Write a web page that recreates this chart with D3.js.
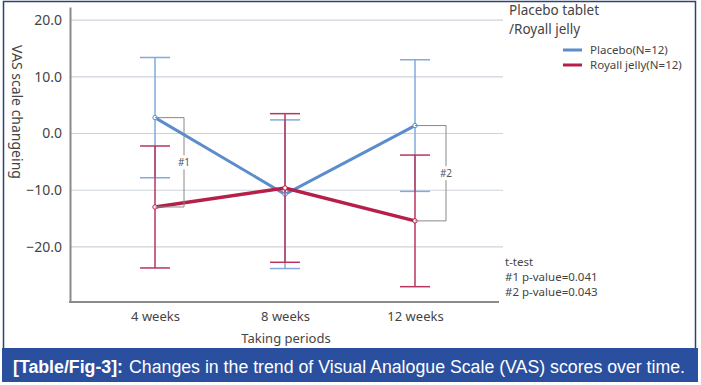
<!DOCTYPE html>
<html>
<head>
<meta charset="utf-8">
<script src="https://cdn.jsdelivr.net/npm/d3@7"></script>
<style>
  body { margin: 0; background: #fff; }
  svg { display: block; }
</style>
</head>
<body>
<div id="chart"></div>
<script>
// data
const periods = ["4 weeks", "8 weeks", "12 weeks"];
const placeboMean = [2.8, -10.7, 1.4];
const placeboSd = [10.6, 13.1, 11.6];
const jellyMean = [-12.95, -9.6, -15.4];
const jellySd = [10.75, 13.1, 11.6];
const yTicks = [20, 10, 0, -10, -20];
const pValues = ["#1 p-value=0.041", "#2 p-value=0.043"];

const width = 701, height = 385;
const svg = d3.select("#chart").append("svg")
  .attr("width", width)
  .attr("height", height);

// outer frame + caption band
svg.append("rect")
  .attr("x", 3.5).attr("y", 1.5)
  .attr("width", 692).attr("height", 350)
  .attr("fill", "#fff")
  .attr("stroke", "#2b4272")
  .attr("stroke-width", 1.5);

svg.append("rect")
  .attr("x", 2).attr("y", 348)
  .attr("width", 696).attr("height", 34)
  .attr("fill", "#2a4f9e");

const cap = svg.append("text")
  .attr("x", 13).attr("y", 372.5)
  .attr("fill", "#fff")
  .attr("textLength", 672)
  .attr("lengthAdjust", "spacingAndGlyphs")
  .style("font", "17.5px 'Liberation Sans', Arial, sans-serif");
cap.append("tspan").attr("font-weight", "bold").text("[Table/Fig-3]:");
cap.append("tspan").attr("dx", 6).text("Changes in the trend of Visual Analogue Scale (VAS) scores over time.");

// scales
const x = d3.scalePoint().domain(periods).range([70, 500]).padding(0.654);
const y = d3.scaleLinear().domain([-29.7, 22.3]).range([302, 7]);

const chart = svg.append("g");
const font = "'Noto Sans', 'DejaVu Sans', sans-serif";

// gridlines
chart.selectAll(".grid")
  .data(yTicks)
  .enter().append("line")
  .attr("class", "grid")
  .attr("x1", 70).attr("x2", 503)
  .attr("y1", d => y(d)).attr("y2", d => y(d))
  .attr("stroke", "#cdd3dc")
  .attr("stroke-width", 1.2);

// y axis
const yAxis = chart.append("g")
  .attr("transform", "translate(70,0)")
  .call(d3.axisLeft(y).tickValues(yTicks).tickSize(0).tickPadding(8).tickFormat(d3.format(".1f")));
yAxis.select(".domain").attr("stroke", "#8a8a8a").attr("stroke-width", 2);
yAxis.selectAll("text")
  .style("font", "14px " + font)
  .attr("fill", "#444");

// x axis
const xAxis = chart.append("g")
  .attr("transform", "translate(0,302)")
  .call(d3.axisBottom(x).tickSize(0).tickPadding(10));
xAxis.select(".domain").attr("d", "M69,0H499").attr("stroke", "#8a8a8a").attr("stroke-width", 2);
xAxis.selectAll("text")
  .style("font", "13px " + font)
  .attr("fill", "#444");

chart.append("text")
  .attr("x", 286).attr("y", 343)
  .attr("text-anchor", "middle")
  .attr("fill", "#444")
  .style("font", "13px " + font)
  .text("Taking periods");

chart.append("text")
  .attr("transform", "translate(12,112) rotate(90)")
  .attr("text-anchor", "middle")
  .attr("fill", "#444")
  .style("font", "14px " + font)
  .text("VAS scale changeing");

// series
const series = [
  {id: "Placebo(N=12)", mean: placeboMean, sd: placeboSd, line: "#5b8ccb", bar: "#82aadb", lw: 3},
  {id: "Royall jelly(N=12)", mean: jellyMean, sd: jellySd, line: "#b51f4a", bar: "#b8365c", lw: 3.5}
];

const line = d3.line()
  .x(d => x(d.p))
  .y(d => y(d.v));

series.forEach(function (s) {
  const pts = periods.map((p, i) => ({p: p, v: s.mean[i], sd: s.sd[i]}));
  const g = chart.append("g");

  // error bars
  g.selectAll(".eb").data(pts).enter().append("line")
    .attr("x1", d => x(d.p)).attr("x2", d => x(d.p))
    .attr("y1", d => y(d.v + d.sd)).attr("y2", d => y(d.v - d.sd))
    .attr("stroke", s.bar).attr("stroke-width", 1.5);
  [1, -1].forEach(function (sign) {
    g.selectAll(".cap" + sign).data(pts).enter().append("line")
      .attr("x1", d => x(d.p) - 15).attr("x2", d => x(d.p) + 15)
      .attr("y1", d => y(d.v + sign * d.sd)).attr("y2", d => y(d.v + sign * d.sd))
      .attr("stroke", s.bar).attr("stroke-width", 1.5);
  });

  s.pts = pts;
  s.g = g;
});

series.forEach(function (s) {
  s.g.append("path")
    .datum(s.pts)
    .attr("d", line)
    .attr("fill", "none")
    .attr("stroke", s.line)
    .attr("stroke-width", s.lw);
  s.g.selectAll(".pt").data(s.pts).enter().append("circle")
    .attr("cx", d => x(d.p)).attr("cy", d => y(d.v))
    .attr("r", 2.2)
    .attr("fill", "#fff")
    .attr("stroke", s.line)
    .attr("stroke-width", 1);
});

// significance brackets
function bracket(i, bx, label) {
  const cx = x(periods[i]);
  const y1 = y(placeboMean[i]), y2 = y(jellyMean[i]);
  chart.append("path")
    .attr("d", `M${cx},${y1}H${bx}V${y2}H${cx}`)
    .attr("fill", "none")
    .attr("stroke", "#888")
    .attr("stroke-width", 1);
  const my = (y1 + y2) / 2;
  chart.append("rect")
    .attr("x", bx - 7).attr("y", my - 7)
    .attr("width", 14).attr("height", 14)
    .attr("fill", "#fff");
  chart.append("text")
    .attr("x", bx).attr("y", my + 3.5)
    .attr("text-anchor", "middle")
    .attr("fill", "#555")
    .style("font", "10px " + font)
    .text(label);
}
bracket(0, 184, "#1");
bracket(2, 446, "#2");

// legend
const leg = svg.append("g").style("font-family", font);
leg.append("text").attr("x", 509).attr("y", 15)
  .attr("fill", "#444").style("font-size", "13.5px").text("Placebo tablet");
leg.append("text").attr("x", 509).attr("y", 33.5)
  .attr("fill", "#444").style("font-size", "13.5px").text("/Royall jelly");
series.forEach(function (s, i) {
  const ly = 50 + i * 15;
  leg.append("line")
    .attr("x1", 563).attr("x2", 582)
    .attr("y1", ly).attr("y2", ly)
    .attr("stroke", s.line).attr("stroke-width", 3);
  leg.append("text")
    .attr("x", 590).attr("y", ly + 4)
    .attr("fill", "#444").style("font-size", "11.5px")
    .text(s.id);
});

// t-test note
const note = svg.append("text")
  .attr("fill", "#444")
  .style("font", "11.5px " + font);
note.selectAll("tspan").data(["t-test"].concat(pValues)).enter().append("tspan")
  .attr("x", 505).attr("y", (d, i) => 266 + i * 15)
  .text(d => d);
</script>
</body>
</html>
